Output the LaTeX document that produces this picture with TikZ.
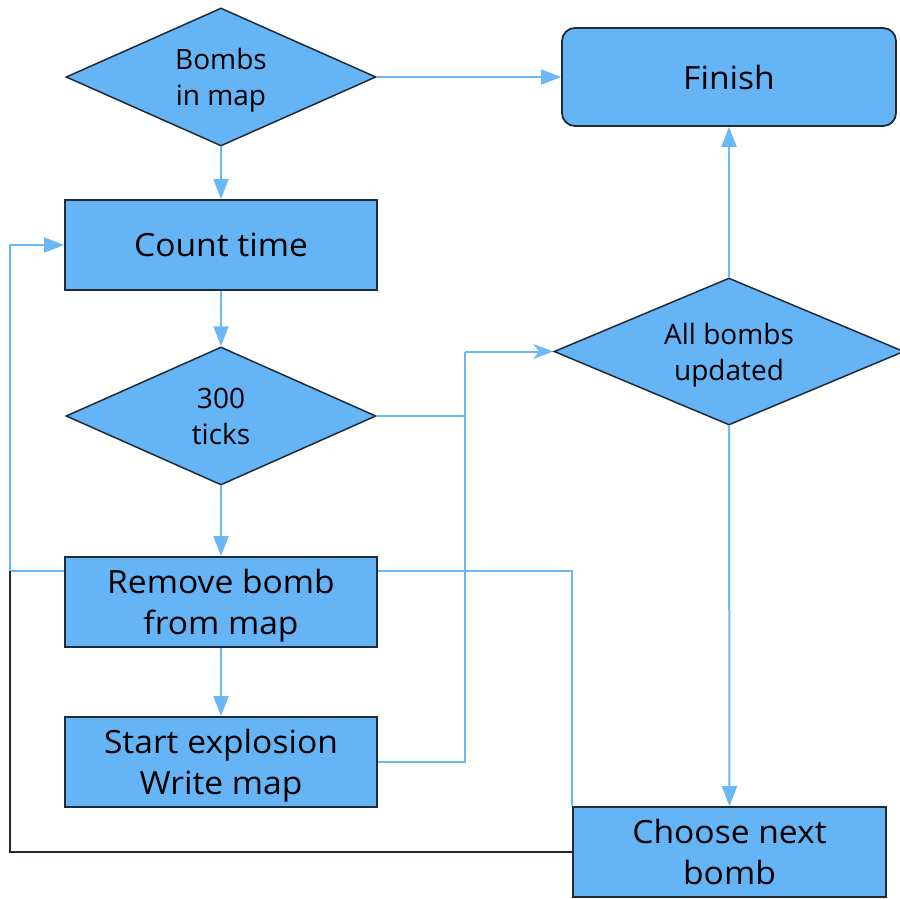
\documentclass[tikz,border=0pt]{standalone}
\usepackage{fontspec}
\setmainfont{Open Sans}
\newfontfamily\boxfont[FakeStretch=1.05]{Open Sans}
\usetikzlibrary{shapes.geometric,arrows.meta,backgrounds}
\definecolor{boxfill}{HTML}{64B4F6}
\definecolor{linkblue}{HTML}{6AB8F7}
\definecolor{edgedark}{HTML}{1F2B37}
\begin{document}
\begin{tikzpicture}[x=1pt,y=-1pt,
  proc/.style={draw=edgedark, line width=1.8pt, fill=boxfill,
    minimum width=312pt, minimum height=90pt, inner sep=0pt,
    text depth=0pt, align=center,
    font=\boxfont\fontsize{32}{41}\selectfont},
  decide/.style={diamond, draw=edgedark, line width=1.5pt, fill=boxfill,
    inner sep=0pt, aspect=2.2, text depth=0pt, align=center,
    font=\fontsize{28}{36}\selectfont},
  link/.style={draw=linkblue, line width=2pt},
  arr/.style={link, -{Triangle[length=20pt,width=15pt]}},
  sarr/.style={link, -{Stealth[length=20pt,width=15pt,inset=6pt]}},
  darklink/.style={draw=edgedark, line width=2pt},
]
\useasboundingbox (0,0) rectangle (900,899);

% process steps and decisions
\node[decide, minimum width=310pt, minimum height=138pt] (bombs) at (221,77) {Bombs\\in map};
\node[proc, rounded corners=13pt, minimum width=334pt, minimum height=98pt] (finish) at (729,77) {Finish};
\node[proc] (count) at (221,245) {Count time};
\node[decide, minimum width=310pt, minimum height=138pt] (ticks) at (221,416) {300\\ticks};
\node[decide, minimum width=350pt, minimum height=147pt] (all) at (729,351.5) {All bombs\\updated};
\node[proc] (remove) at (221,602) {Remove bomb\\from map};
\node[proc] (start) at (221,762) {Start explosion\\Write map};
\node[proc, minimum width=313pt] (choose) at (729.5,852) {Choose next\\bomb};

\coordinate (merge) at (465,351.5);
\coordinate (loopL) at (10,571);

% connectors run behind the boxes
\begin{pgfonlayer}{background}
  \draw[arr] (bombs.east) -- (finish.west);
  \draw[arr] (bombs.south) -- (count.north);
  \draw[arr] (count.south) -- (ticks.north);
  \draw[arr] (ticks.south) -- (remove.north);
  \draw[arr] (remove.south) -- (start.north);
  \draw[arr] (all.north) -- (finish.south);
  \draw[arr] (all.south) -- (choose.north);
  \draw[link] (ticks.east) -| (merge);
  \draw[link] (start.east) -| (merge);
  \draw[sarr] (merge) -- (all.west);
  \draw[arr] (choose.north west) |- (loopL) |- (count.west);
  \draw[darklink] (choose.west) -| (loopL);
\end{pgfonlayer}
\end{tikzpicture}
\end{document}
